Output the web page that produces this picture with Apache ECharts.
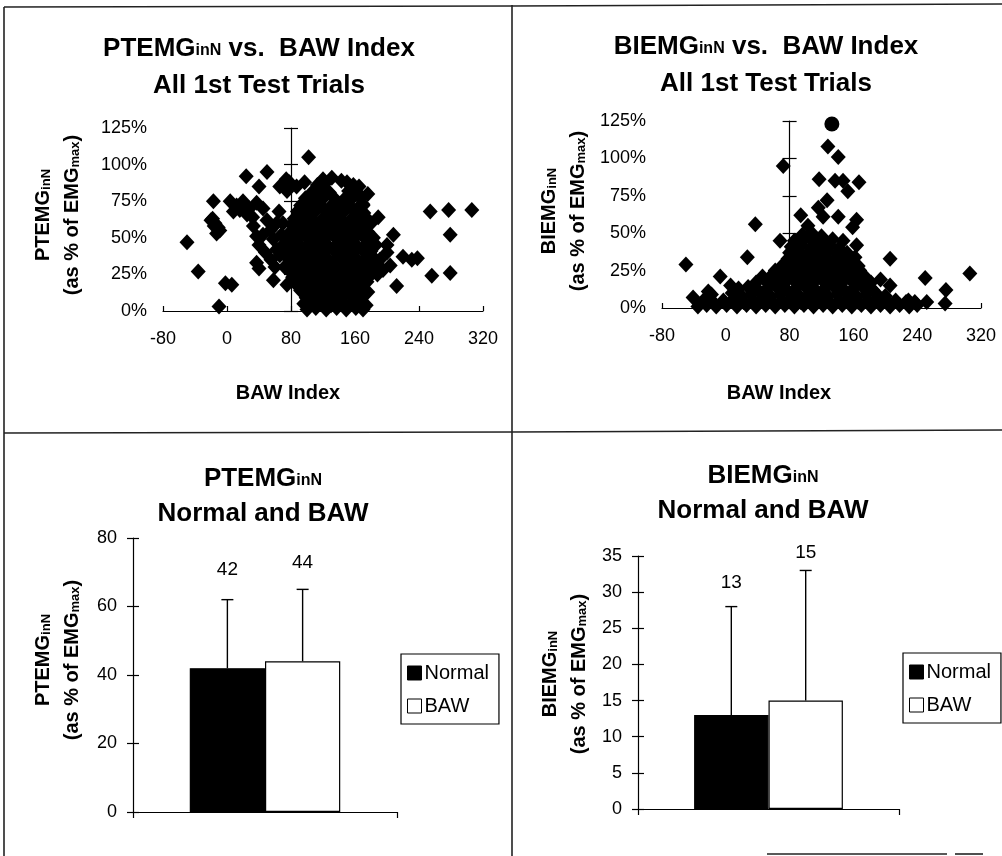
<!DOCTYPE html>
<html>
<head>
<meta charset="utf-8">
<script src="https://cdn.jsdelivr.net/npm/echarts/dist/echarts.min.js"></script>
<style>
  html, body { margin: 0; padding: 0; background: #fff; }
  #chart { width: 1002px; height: 856px; }
</style>
</head>
<body>
<div id="chart"></div>
<script>
// ---- data ----
// BAW index vs. PTEMG (percent of EMG max), all first test trials
const PT_POINTS = [
  // scattered trials
  [-50,47],[-36,27],[-17,75],[-20,62],[-15,60],[-11,57],[-9,55],[-16,58],[-13,53],[-18,63],
  [-2,19],[6,18],[-10,3],[4,75],[20,75],[24,92],[40,85],[50,95],[16,69],[32,64],[37,74],
  [45,70],[33,58],[37,51],[40,45],[50,62],[54,55],[58,49],[37,33],[40,29],[58,21],[66,85],
  [74,90],[78,88],[75,82],[87,85],[97,88],[102,105],[75,18],[62,42],[62,60],[68,52],[70,45],
  [66,38],[72,30],[55,35],[48,40],[60,30],[70,60],[65,68],[45,52],[28,70],[12,72],[8,68],[25,66],
  [189,64],[208,52],[200,40],[204,31],[212,17],[220,37],[231,35],[238,36],[191,35],[200,45],
  [180,60],[183,50],[186,45],[178,40],[184,30],[195,28],[188,25],[175,20],[170,72],[176,80],[165,85],
  [254,68],[277,69],[306,69],[279,52],[256,24],[279,26],
  // main cluster
  [100,1],[111,2],[124,1],[137,2],[149,1],[161,2],[170,1],
  [96,5],[106,6],[118,5],[130,4],[143,6],[155,5],[167,6],[174,4],
  [99,9],[110,10],[122,9],[134,8],[146,10],[158,9],[170,10],
  [92,14],[104,13],[116,15],[128,14],[140,13],[152,15],[164,14],[176,13],
  [87,18],[98,19],[110,18],[122,17],[134,19],[146,18],[158,17],[170,19],
  [82,23],[93,22],[104,24],[116,23],[128,22],[140,24],[152,23],[164,22],[177,23],
  [79,27],[88,28],[99,26],[111,27],[123,28],[135,27],[147,26],[159,28],[170,27],[181,26],
  [77,32],[86,31],[94,33],[105,32],[117,31],[129,33],[141,32],[153,31],[165,33],[176,32],[184,31],
  [76,36],[82,37],[92,35],[103,37],[115,36],[127,35],[139,37],[151,36],[163,35],[175,37],[184,36],
  [75,41],[86,40],[97,42],[109,41],[121,40],[133,42],[145,41],[157,40],[169,42],[180,41],
  [76,45],[82,46],[92,44],[103,46],[115,45],[127,44],[139,46],[151,45],[163,44],[175,46],[182,45],
  [78,50],[87,49],[98,51],[110,50],[122,49],[134,51],[146,50],[158,49],[170,51],[179,50],
  [79,54],[92,55],[104,54],[116,53],[128,55],[140,54],[152,53],[164,55],[176,54],
  [81,59],[88,58],[99,60],[111,59],[123,58],[135,60],[147,59],[159,58],[171,60],
  [84,63],[94,64],[106,63],[118,62],[130,64],[142,63],[154,62],[166,64],[175,63],
  [88,68],[100,67],[112,69],[124,68],[136,67],[148,69],[160,68],[171,67],
  [92,72],[105,73],[117,72],[129,71],[141,73],[153,72],[165,71],[170,73],
  [98,77],[110,76],[122,78],[134,77],[146,76],[158,78],[167,77],
  [106,81],[116,82],[128,81],[152,82],[163,81],
  [113,86],[122,87],[158,86],
  [120,90],[131,91],[143,89],[150,88]
];

// BAW index vs. BIEMG (percent of EMG max), all first test trials
const BI_POINTS = [
  // scattered trials
  [128,108],[141,101],[72,95],[117,86],[137,85],[147,85],[167,84],[153,78],[127,72],[116,67],
  [94,62],[122,61],[141,61],[164,59],[159,54],[103,55],[37,56],[68,45],[147,45],[164,42],
  [206,33],[27,34],[-50,29],[306,23],[250,20],[276,12],[275,3],[252,4],[-41,7],[-22,11],
  [-7,21],[6,15],[194,19],[206,15],[229,5],[237,4],
  // main cluster
  [-35,1],[-24,2],[-12,1],[1,2],[14,1],[26,2],[38,1],[50,2],[62,1],[74,2],[86,1],[98,2],
  [110,1],[122,2],[134,1],[146,2],[158,1],[170,2],[182,1],[194,2],[206,1],[218,2],[230,1],[240,2],
  [-28,5],[-16,4],[-3,5],[10,6],[22,4],[34,5],[46,6],[58,4],[70,5],[82,6],[94,4],
  [106,5],[118,6],[130,4],[142,5],[154,6],[166,4],[178,5],[190,6],[203,4],[213,5],[226,4],
  [-18,9],[8,10],[20,8],[32,9],[44,10],[56,8],[68,9],[80,10],[92,8],[104,9],[116,10],
  [128,8],[140,9],[152,10],[164,8],[176,9],[188,10],[200,8],
  [16,13],[28,14],[40,12],[52,13],[64,14],[76,12],[88,13],[100,14],[112,12],[124,13],
  [136,14],[148,12],[160,13],[172,14],[184,12],
  [38,17],[50,18],[62,16],[74,17],[86,18],[98,16],[110,17],[122,18],[134,16],[146,17],
  [158,18],[170,16],[182,17],
  [46,21],[58,22],[70,20],[82,21],[94,22],[106,20],[118,21],[130,22],[142,20],[154,21],[166,22],[176,20],
  [62,25],[74,26],[86,24],[98,25],[110,26],[122,24],[134,25],[146,26],[158,24],[168,25],
  [72,29],[84,30],[96,28],[108,29],[120,30],[132,28],[144,29],[156,30],[166,28],
  [78,33],[90,34],[102,32],[114,33],[126,34],[138,32],[150,33],[162,34],
  [80,37],[92,38],[104,36],[116,37],[128,38],[140,36],[152,37],
  [82,41],[94,42],[106,40],[118,41],[130,42],[142,40],
  [86,45],[98,46],[110,44],[122,45],[134,46],
  [96,49],[108,50],[120,48]
];
// trial drawn with a round marker at the top of the scale
const BI_ROUND = [[133,123]];

// axis scales
const BAW_MIN = -80, BAW_MAX = 320, BAW_STEP = 80;
const BAW_CROSS = 80;                     // vertical axis crosses here
const PCT_MIN = 0, PCT_MAX = 125, PCT_STEP = 25;

// group means and upper standard deviations
const GROUPS = ['Normal', 'BAW'];
const PT_MEAN = [42, 44];
const PT_SD = [20, 21];
const PT_MAX = 80, PT_STEP = 20;
const BI_MEAN = [13, 15];
const BI_SD = [15, 18];
const BI_MAX = 35, BI_STEP = 5;

// ---- styling ----
const F = "'Liberation Sans', Arial, Helvetica, sans-serif";
const INK = '#000';
const BAR_GAP = 0.43;

// big text with small-cap style suffixes sitting near the baseline
function richStyle(big, small, lh) {
  return {
    b: { fontSize: big, fontWeight: 'bold', fontFamily: F, fill: INK, lineHeight: lh },
    s: { fontSize: small, fontWeight: 'bold', fontFamily: F, fill: INK, lineHeight: lh,
         verticalAlign: 'middle', padding: [5, 0, 0, 0] }
  };
}
function textEl(x, y, text, rich, rotation) {
  return {
    type: 'text', x: x, y: y, rotation: rotation || 0, z: 100,
    style: { text: text, rich: rich, align: 'center', verticalAlign: 'middle', fill: INK }
  };
}
function lineEl(x1, y1, x2, y2) {
  return { type: 'line', z: 90, shape: { x1, y1, x2, y2 }, style: { stroke: '#222', lineWidth: 1.6 } };
}

const tickLabel = { fontSize: 18, fontFamily: F, color: INK };

// value x axis of the scatter panels
function bawAxis(gridIndex) {
  return {
    type: 'value', gridIndex, min: BAW_MIN, max: BAW_MAX, interval: BAW_STEP, position: 'bottom',
    axisLine: { onZero: false, lineStyle: { color: INK, width: 1.2 } },
    axisTick: { inside: true, length: 5, lineStyle: { color: INK, width: 1.2 } },
    axisLabel: Object.assign({ margin: 19 }, tickLabel),
    splitLine: { show: false }
  };
}
// hidden axis whose zero sits at the crossing value, used to place the vertical axis
function crossHelperAxis(gridIndex) {
  return {
    type: 'value', gridIndex, show: false, position: 'bottom',
    min: BAW_MIN - BAW_CROSS, max: BAW_MAX - BAW_CROSS,
    axisLine: { onZero: false }, splitLine: { show: false }
  };
}
function pctLabelAxis(gridIndex) {
  return {
    type: 'value', gridIndex, min: PCT_MIN, max: PCT_MAX, interval: PCT_STEP, position: 'left',
    axisLine: { show: false, onZero: false }, axisTick: { show: false },
    axisLabel: Object.assign({ margin: 16, formatter: v => v + '%' }, tickLabel),
    splitLine: { show: false }
  };
}
function pctCrossAxis(gridIndex, helperIndex, inside, showLine) {
  return {
    type: 'value', gridIndex, min: PCT_MIN, max: PCT_MAX, interval: PCT_STEP, position: 'left',
    axisLine: { show: showLine, onZero: true, onZeroAxisIndex: helperIndex, lineStyle: { color: INK, width: 1.2 } },
    axisTick: { show: true, inside: inside, length: 7, lineStyle: { color: INK, width: 1.2 } },
    axisLabel: { show: false }, splitLine: { show: false }
  };
}
function catAxis(gridIndex) {
  return {
    type: 'category', gridIndex, data: [''], position: 'bottom',
    axisLine: { onZero: false, lineStyle: { color: INK, width: 1.2 } },
    axisTick: { show: true, interval: 0, length: 6, lineStyle: { color: INK, width: 1.2 } },
    axisLabel: { show: false }
  };
}
function barValueAxis(gridIndex, max, step, inside) {
  return {
    type: 'value', gridIndex, min: 0, max: max, interval: step, position: 'left',
    axisLine: { show: !inside, onZero: false, lineStyle: { color: INK, width: 1.2 } },
    axisTick: { show: true, inside: inside, length: 6, lineStyle: { color: INK, width: 1.2 } },
    axisLabel: inside ? { show: false } : Object.assign({ margin: 16 }, tickLabel),
    splitLine: { show: false }
  };
}

function scatterSeries(data, xi, yi, symbol, size) {
  return {
    type: 'scatter', xAxisIndex: xi, yAxisIndex: yi, data: data,
    symbol: symbol, symbolSize: size, itemStyle: { color: INK, opacity: 1 },
    emphasis: { disabled: true }, silent: true, z: 3
  };
}
function barSeries(name, value, xi, yi, fill, labelOffset) {
  return {
    type: 'bar', name: name, xAxisIndex: xi, yAxisIndex: yi, data: [value],
    barGap: 0, barCategoryGap: (BAR_GAP * 100) + '%',
    itemStyle: { color: fill, borderColor: INK, borderWidth: 1.2 },
    label: { show: true, position: 'top', offset: labelOffset, formatter: '{c}', fontSize: 19, fontFamily: F, color: INK },
    emphasis: { disabled: true }, silent: true, z: 2
  };
}
// upper error bar drawn above one of the two bars in the category
function errorSeries(side, mean, sd, xi, yi) {
  return {
    type: 'custom', xAxisIndex: xi, yAxisIndex: yi, data: [[0, mean, mean + sd]], z: 4, silent: true,
    renderItem(params, api) {
      const band = api.size([1, 0])[0];
      const bw = band * (1 - BAR_GAP) / 2;
      const base = api.coord([api.value(0), api.value(1)]);
      const tip = api.coord([api.value(0), api.value(2)]);
      const x = base[0] + side * bw / 2;
      const st = { stroke: INK, lineWidth: 1.4 };
      return { type: 'group', children: [
        { type: 'line', shape: { x1: x, y1: base[1], x2: x, y2: tip[1] }, style: st },
        { type: 'line', shape: { x1: x - 6, y1: tip[1], x2: x + 6, y2: tip[1] }, style: st }
      ] };
    }
  };
}
function legendBox(left, top) {
  return {
    left, top, orient: 'vertical', data: GROUPS, icon: 'rect',
    itemWidth: 14, itemHeight: 14, itemGap: 11, padding: [8, 10, 7, 6],
    borderColor: INK, borderWidth: 1.2, borderRadius: 0, selectedMode: false,
    itemStyle: { borderColor: INK, borderWidth: 1 },
    textStyle: { fontSize: 20, fontFamily: F, color: INK, lineHeight: 22, padding: [0, 0, 0, -2] }
  };
}

const T = richStyle(26, 16, 37);
const TB = richStyle(26, 16, 35);
const N = richStyle(20, 13, 29);
const AX = { b: { fontSize: 20, fontWeight: 'bold', fontFamily: F, fill: INK } };

const option = {
  backgroundColor: '#fff',
  animation: false,
  grid: [
    { left: 163, top: 128, width: 320, height: 183, outerBoundsMode: 'none' },
    { left: 662, top: 121, width: 319, height: 187, outerBoundsMode: 'none' },
    { left: 133, top: 538, width: 264, height: 274, outerBoundsMode: 'none' },
    { left: 638, top: 556, width: 261, height: 253, outerBoundsMode: 'none' }
  ],
  xAxis: [
    bawAxis(0), crossHelperAxis(0),
    bawAxis(1), crossHelperAxis(1),
    catAxis(2), catAxis(3)
  ],
  yAxis: [
    pctLabelAxis(0), pctCrossAxis(0, 1, false, true), pctCrossAxis(0, 1, true, false),
    pctLabelAxis(1), pctCrossAxis(1, 3, false, true), pctCrossAxis(1, 3, true, false),
    barValueAxis(2, PT_MAX, PT_STEP, false), barValueAxis(2, PT_MAX, PT_STEP, true),
    barValueAxis(3, BI_MAX, BI_STEP, false), barValueAxis(3, BI_MAX, BI_STEP, true)
  ],
  legend: [legendBox(401, 654), legendBox(903, 653)],
  series: [
    scatterSeries(PT_POINTS, 0, 0, 'diamond', [15, 16]),
    scatterSeries(BI_POINTS, 2, 3, 'diamond', [15, 16]),
    scatterSeries(BI_ROUND, 2, 3, 'circle', 15),
    barSeries(GROUPS[0], PT_MEAN[0], 4, 6, INK, [0, -84]),
    barSeries(GROUPS[1], PT_MEAN[1], 4, 6, '#fff', [0, -84]),
    errorSeries(-1, PT_MEAN[0], PT_SD[0], 4, 6),
    errorSeries(1, PT_MEAN[1], PT_SD[1], 4, 6),
    barSeries(GROUPS[0], BI_MEAN[0], 5, 8, INK, [0, -118]),
    barSeries(GROUPS[1], BI_MEAN[1], 5, 8, '#fff', [0, -133]),
    errorSeries(-1, BI_MEAN[0], BI_SD[0], 5, 8),
    errorSeries(1, BI_MEAN[1], BI_SD[1], 5, 8)
  ],
  graphic: [
    // panel frame
    lineEl(4, 7, 512, 6), lineEl(512, 6, 1002, 4),
    lineEl(4, 7, 4, 856), lineEl(512, 5, 512, 856),
    lineEl(4, 433, 512, 432), lineEl(512, 432, 1002, 430),
    lineEl(767, 854, 947, 854), lineEl(955, 854, 983, 854),
    // panel titles
    textEl(259, 67, '{b|PTEMG}{s|inN}{b| vs.  BAW Index}\n{b|All 1st Test Trials}', T),
    textEl(766, 65, '{b|BIEMG}{s|inN}{b| vs.  BAW Index}\n{b|All 1st Test Trials}', T),
    textEl(263, 496, '{b|PTEMG}{s|inN}\n{b|Normal and BAW}', TB),
    textEl(763, 493, '{b|BIEMG}{s|inN}\n{b|Normal and BAW}', TB),
    // axis names
    textEl(58, 215, '{b|PTEMG}{s|inN}\n{b|(as % of EMG}{s|max}{b|)}', N, Math.PI / 2),
    textEl(564, 211, '{b|BIEMG}{s|inN}\n{b|(as % of EMG}{s|max}{b|)}', N, Math.PI / 2),
    textEl(58, 660, '{b|PTEMG}{s|inN}\n{b|(as % of EMG}{s|max}{b|)}', N, Math.PI / 2),
    textEl(565, 674, '{b|BIEMG}{s|inN}\n{b|(as % of EMG}{s|max}{b|)}', N, Math.PI / 2),
    textEl(288, 393, '{b|BAW Index}', AX),
    textEl(779, 393, '{b|BAW Index}', AX)
  ]
};

const chart = echarts.init(document.getElementById('chart'), null, { renderer: 'canvas' });
chart.setOption(option);
</script>
</body>
</html>
